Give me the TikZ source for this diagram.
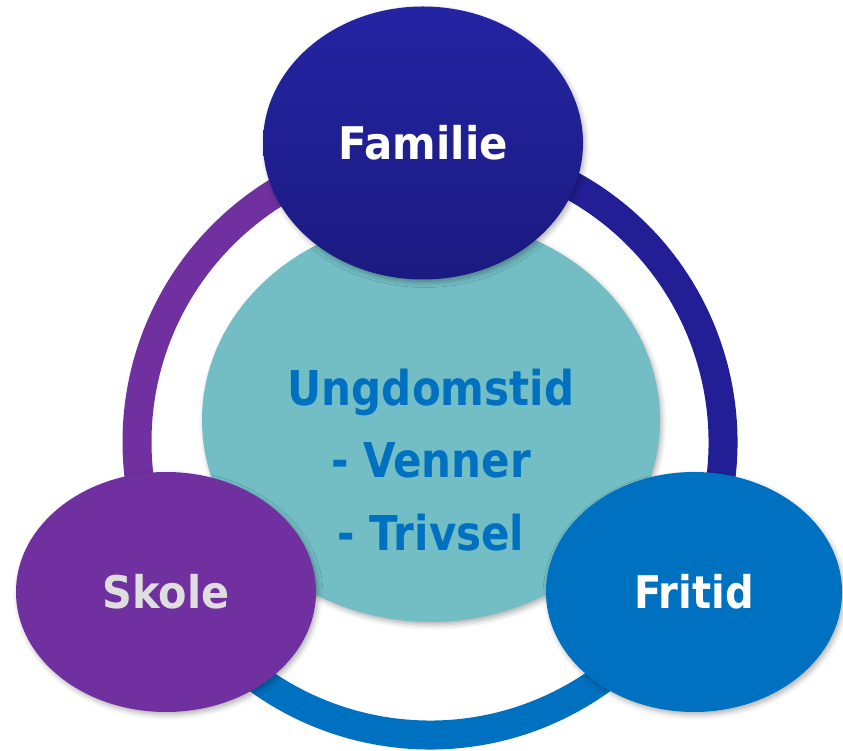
\documentclass[tikz,border=0pt]{standalone}
\usepackage{fontspec}
\setmainfont{DejaVu Sans}
\usetikzlibrary{shapes.geometric,shadows.blur}

\definecolor{famtop}{HTML}{2424A4}
\definecolor{fambottom}{HTML}{1B1A80}
\definecolor{ringnavy}{HTML}{211E96}
\definecolor{skolepurple}{HTML}{7030A0}
\definecolor{fritidblue}{HTML}{0070C0}
\definecolor{kjerneteal}{HTML}{72BEC4}
\definecolor{skolegray}{HTML}{DEDEDE}

\tikzset{
	bubble/.style={ellipse, inner sep=0pt, text=white,
		font=\fontsize{45}{54}\selectfont\bfseries,
		blur shadow={shadow xshift=2pt, shadow yshift=-3pt, shadow blur radius=5pt, shadow opacity=30}},
	ringarc/.style={line width=29pt},
}
\newcommand{\narrow}[2][0.92]{\scalebox{#1}[1]{#2}}

\begin{document}
\begin{tikzpicture}[x=1pt,y=1pt]
	\useasboundingbox (0,0) rectangle (843,751);
	
	% the ring
	\coordinate (ringc) at (430,309);
	\draw[ringarc,skolepurple] (ringc) ++(90:293) arc[start angle=90, end angle=210, radius=293];
	\draw[ringarc,fritidblue] (ringc) ++(210:293) arc[start angle=210, end angle=330, radius=293];
	\draw[ringarc,ringnavy] (ringc) ++(330:293) arc[start angle=330, end angle=450, radius=293];
	
	% middle
	\node[bubble, fill=kjerneteal, minimum width=458, minimum height=404] (kjerne) at (431,331) {};
	\node[text=fritidblue, font=\fontsize{48}{72.5}\selectfont\bfseries, align=center, xscale=0.875] (kjernetekst) at (431,291) {Ungdomstid\\- Venner\\- Trivsel};
	
	% the three circles
	\node[bubble, fill=skolepurple, text=skolegray, minimum width=300, minimum height=240] (skole) at (166,159) {\narrow{Skole}};
	\node[bubble, fill=fritidblue, minimum width=296, minimum height=240] (fritid) at (694,159) {\narrow[0.89]{Fritid}};
	\node[bubble, top color=famtop, bottom color=fambottom, minimum width=320, minimum height=273] (familie) at (423,608) {\narrow[0.93]{Familie}};
\end{tikzpicture}
\end{document}
